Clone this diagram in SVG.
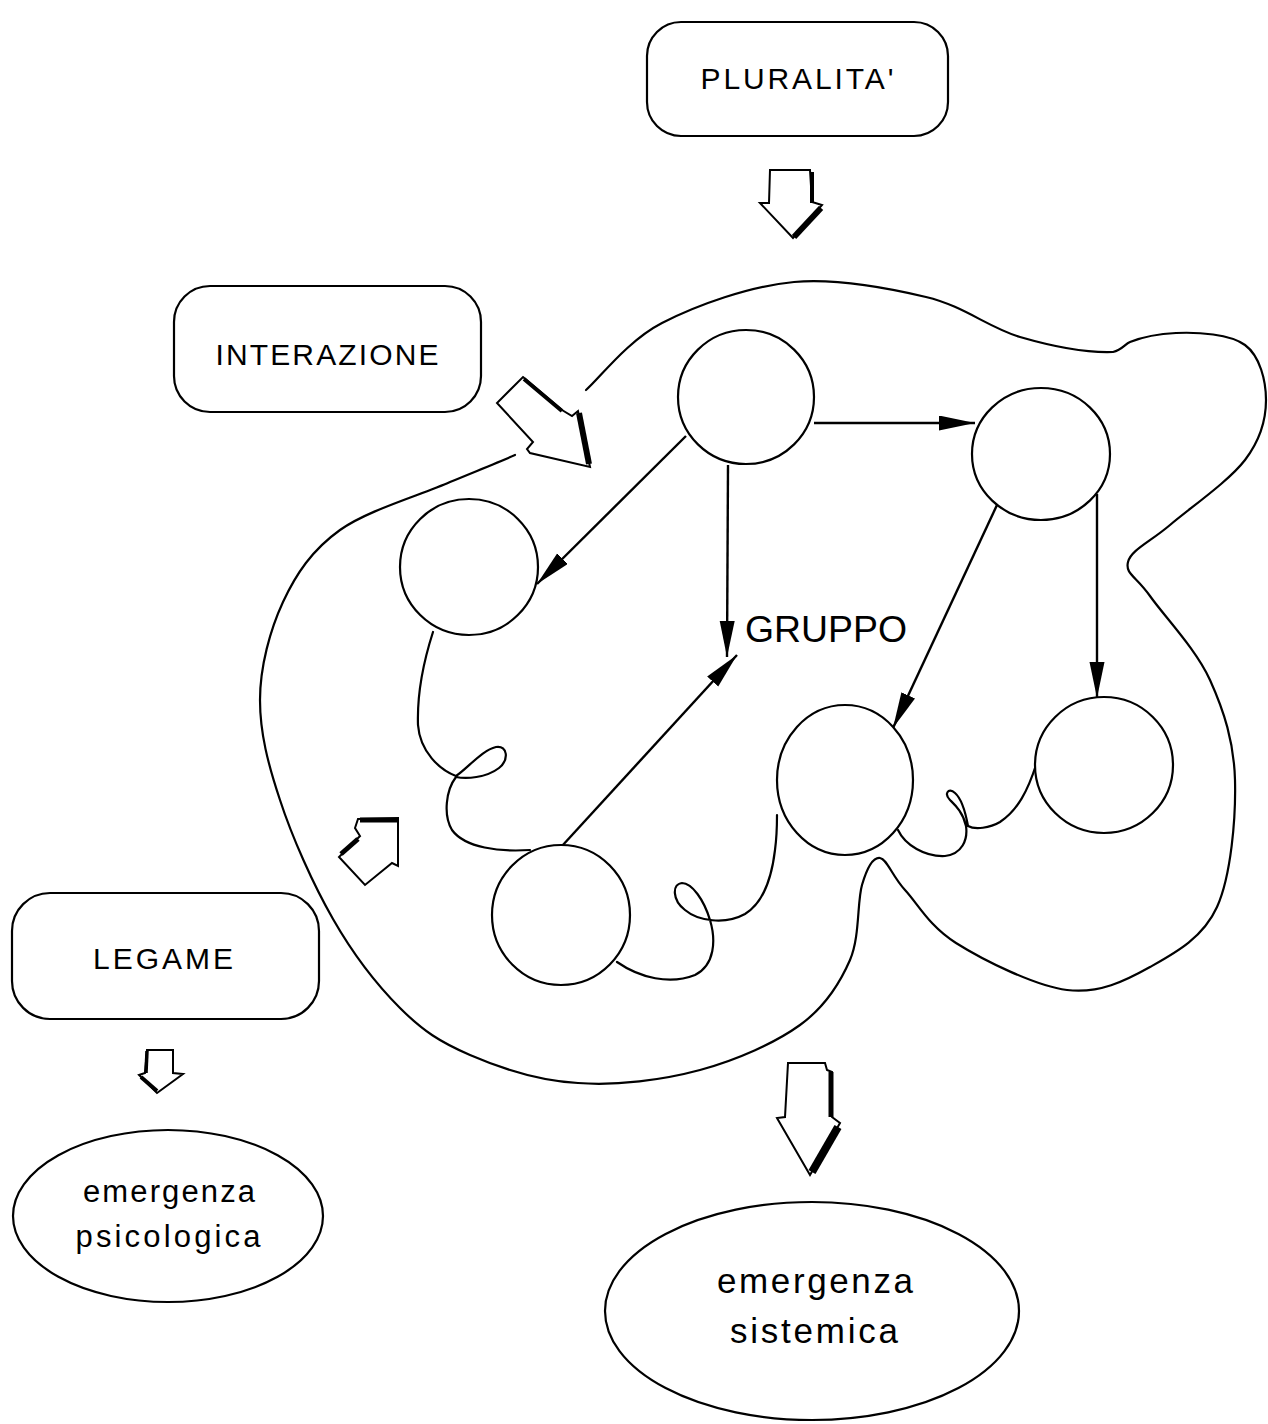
<svg xmlns="http://www.w3.org/2000/svg" width="1268" height="1424" viewBox="0 0 1268 1424">
<style>
.box{fill:#fff;stroke:#000;stroke-width:2.2}
.node{fill:#fff;stroke:#000;stroke-width:2.2}
.line{fill:none;stroke:#000;stroke-width:2.2;stroke-linecap:round;stroke-linejoin:round}
.edge{fill:none;stroke:#000;stroke-width:2.4}
.blk{fill:#fff;stroke:#000;stroke-width:2;stroke-linejoin:miter}
.shd{fill:none;stroke:#000;stroke-linecap:butt}
.lbl{font-family:"Liberation Sans",Arial,sans-serif;fill:#000;text-anchor:middle}
</style>
<defs>
<marker id="ah" markerUnits="userSpaceOnUse" markerWidth="38" markerHeight="16" refX="36" refY="7.5" orient="auto">
<path d="M0,0 L36,7.5 L0,15 Z" fill="#000"/>
</marker>
</defs>

<g id="blob">
<path class="line" d="M586,390 C599,379 627,341 662,323 C697,305 750,286 794,282 C838,278 888,288 926,297 C964,306 989,328 1020,337 C1051,346 1087,353 1113,352 C1122,350 1125,344 1130,342 C1140,338 1154,334 1176,333 C1198,332 1230,334 1245,345 C1260,356 1266,381 1266,400 C1266,419 1261,439 1245,460 C1229,481 1190,508 1170,525 C1150,542 1131,550 1128,562 C1125,574 1136,576 1150,596 C1164,616 1196,649 1210,680 C1224,711 1234,742 1235,780 C1236,818 1231,876 1217,907 C1203,938 1175,953 1150,967 C1125,981 1099,994 1067,990 C1035,986 983,960 956,943 C929,926 918,904 905,890 C892,876 887,859 880,858 C873,857 867,868 862,885 C857,902 860,937 850,960 C840,983 825,1007 800,1025 C775,1043 737,1060 700,1070 C663,1080 616,1086 578,1083 C540,1081 500,1068 470,1055 C440,1042 423,1031 400,1008 C377,985 353,954 333,919 C313,884 292,837 280,800 C268,764 260,733 260,700 C260,667 270,630 283,602 C296,574 312,550 340,530 C368,510 421,495 450,482 C479,470 504,460 515,455"/>
</g>

<g id="connectors">
<line class="edge" x1="814" y1="423" x2="975" y2="423" marker-end="url(#ah)"/>
<line class="edge" x1="686" y1="436" x2="537" y2="584" marker-end="url(#ah)"/>
<line class="edge" x1="728" y1="465" x2="727" y2="657" marker-end="url(#ah)"/>
<line class="edge" x1="562" y1="846" x2="737" y2="655" marker-end="url(#ah)"/>
<line class="edge" x1="997" y1="505" x2="893" y2="728" marker-end="url(#ah)"/>
<line class="edge" x1="1097" y1="494" x2="1097" y2="698" marker-end="url(#ah)"/>
<path class="line" d="M433,632 C424,660 417,695 418,725 C420,752 440,770 456,776 C468,768 482,750 496,747 C508,745 509,760 499,768 C486,778 466,779 456,777 C446,790 443,815 452,830 C465,848 500,852 530,850"/>
<path class="line" d="M617,962 C640,978 670,985 695,975 C715,965 716,940 710,920 C704,900 692,883 682,883 C672,884 672,900 685,910 C698,921 725,925 745,914 C765,902 772,875 775,850 C777,835 777,825 777,815"/>
<path class="line" d="M898,830 C905,845 925,857 945,856 C962,854 968,840 966,826 C963,812 955,805 950,800 C944,794 948,787 955,793 C963,800 966,815 968,826 C975,830 990,828 1000,822 C1018,810 1028,790 1036,765"/>
</g>

<g id="node-top"><ellipse class="node" cx="746" cy="397" rx="68" ry="67"/></g>
<g id="node-topright"><ellipse class="node" cx="1041" cy="454" rx="69" ry="66"/></g>
<g id="node-left"><ellipse class="node" cx="469" cy="567" rx="69" ry="68"/></g>
<g id="node-midbottom"><ellipse class="node" cx="845" cy="780" rx="68" ry="75"/></g>
<g id="node-right"><ellipse class="node" cx="1104" cy="765" rx="69" ry="68"/></g>
<g id="node-bottomleft"><ellipse class="node" cx="561" cy="915" rx="69" ry="70"/></g>

<g id="label-gruppo"><text class="lbl" x="826" y="642" font-size="37" textLength="162" lengthAdjust="spacingAndGlyphs">GRUPPO</text></g>

<g id="pluralita">
<rect class="box" x="647" y="22" width="301" height="114" rx="34"/>
<text class="lbl" x="797" y="89" font-size="30" textLength="193" lengthAdjust="spacing">PLURALITA'</text>
</g>
<g id="interazione">
<rect class="box" x="174" y="286" width="307" height="126" rx="36"/>
<text class="lbl" x="327" y="365" font-size="30" textLength="223" lengthAdjust="spacing">INTERAZIONE</text>
</g>
<g id="legame">
<rect class="box" x="12" y="893" width="307" height="126" rx="38"/>
<text class="lbl" x="163" y="969" font-size="30" textLength="140" lengthAdjust="spacing">LEGAME</text>
</g>
<g id="emergenza-psicologica">
<ellipse class="box" cx="168" cy="1216" rx="155" ry="86"/>
<text class="lbl" x="169" y="1202" font-size="31" textLength="172" lengthAdjust="spacing">emergenza</text>
<text class="lbl" x="168" y="1247" font-size="31" textLength="185" lengthAdjust="spacing">psicologica</text>
</g>
<g id="emergenza-sistemica">
<ellipse class="box" cx="812" cy="1311" rx="207" ry="109"/>
<text class="lbl" x="815" y="1293" font-size="35" textLength="196" lengthAdjust="spacing">emergenza</text>
<text class="lbl" x="814" y="1343" font-size="35" textLength="168" lengthAdjust="spacing">sistemica</text>
</g>

<g id="arrow-pluralita">
<polygon class="blk" points="770,170 810,170 812,202 822,205 793,238 760,203 769,203"/>
<line class="shd" x1="812" y1="172" x2="812" y2="203" stroke-width="4"/>
<line class="shd" x1="821" y1="208" x2="794" y2="237" stroke-width="6"/>
</g>
<g id="arrow-interazione">
<polygon class="blk" points="523,377 562,410 572,416 578,411 590,467 530,453 527,449 533,442 497,403"/>
<line class="shd" x1="524" y1="379" x2="562" y2="411" stroke-width="4"/>
<line class="shd" x1="579" y1="413" x2="589" y2="464" stroke-width="6"/>
</g>
<g id="arrow-inner">
<polygon class="blk" points="358,819 398,818 398,866 392,863 365,885 339,857 360,836 355,828"/>
<line class="shd" x1="360" y1="820" x2="398" y2="820" stroke-width="5"/>
<line class="shd" x1="341" y1="854" x2="358" y2="839" stroke-width="5"/>
</g>
<g id="arrow-legame">
<polygon class="blk" points="147,1050 173,1050 173,1073 183,1074 157,1093 139,1075 145,1073"/>
<line class="shd" x1="147" y1="1051" x2="146" y2="1073" stroke-width="3.5"/>
<line class="shd" x1="141" y1="1077" x2="157" y2="1091" stroke-width="4"/>
</g>
<g id="arrow-gruppo">
<polygon class="blk" points="788,1063 825,1063 827,1070 832,1072 832,1117 840,1123 810,1175 777,1118 785,1117"/>
<line class="shd" x1="831" y1="1072" x2="831" y2="1117" stroke-width="5"/>
<line class="shd" x1="838" y1="1127" x2="812" y2="1172" stroke-width="8"/>
</g>
</svg>
